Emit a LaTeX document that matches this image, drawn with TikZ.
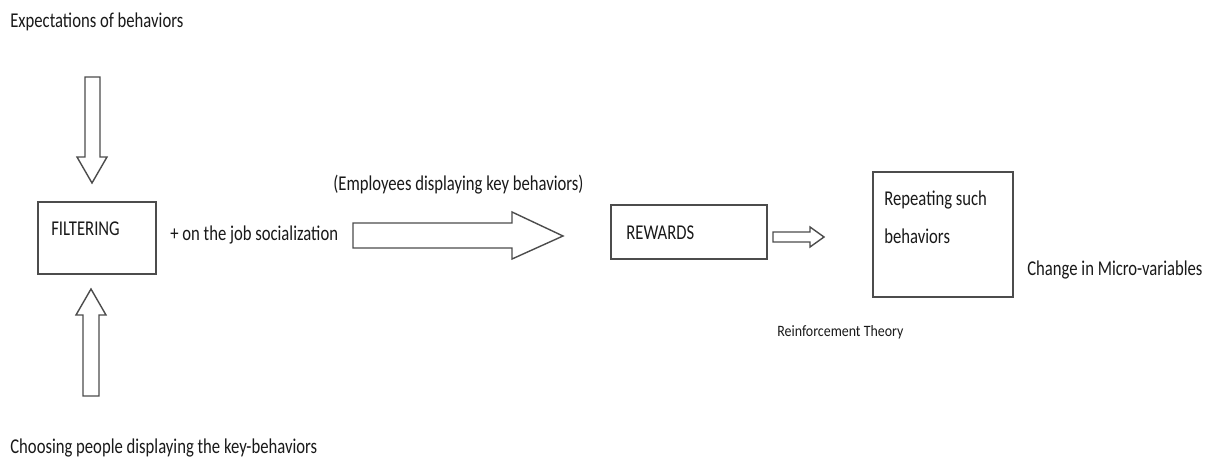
\documentclass[tikz,border=0pt]{standalone}
\usepackage{fontspec}
\setmainfont{Carlito}
\newfontfamily\narrowfont{Carlito}[FakeStretch=0.79]
\newfontfamily\theoryfont{Carlito}[FakeStretch=0.88]
\usepackage{tikz}

\tikzset{
    lbl/.style={anchor=west, inner sep=0pt, text=black!90, font=\narrowfont\fontsize{12}{21.5}\selectfont},
    box/.style={draw=black!70, line width=0.8pt, inner sep=0pt},
    blk/.style={draw=black!70, line width=0.8pt, line join=miter, fill=white}
}

\begin{document}
\begin{tikzpicture}[x=0.02cm, y=-0.02cm]
        \useasboundingbox (0,0) rectangle (1213,462);

        % boxes
        \node[box, minimum width=2.36cm, minimum height=1.44cm] (filter) at (97,238) {};
        \node[box, minimum width=3.12cm, minimum height=1.08cm] (rewards) at (689,232) {};
        \node[box, minimum width=2.8cm, minimum height=2.5cm] (repeat) at (943,234.5) {};

        % labels
        \node[lbl] (expect) at (10,22) {Expectations of behaviors};
        \node[lbl] (choose) at (10,448) {Choosing people displaying the key-behaviors};
        \node[lbl] (filtertxt) at (51,229) {FILTERING};
        \node[lbl] (social) at (170,235) {+ on the job socialization};
        \node[lbl] (employees) at (333,185) {(Employees displaying key behaviors)};
        \node[lbl] (rewardtxt) at (626,233) {REWARDS};
        \node[lbl, align=left, anchor=north west] (repeattxt) at (884,191) {Repeating such\\behaviors};
        \node[lbl] (micro) at (1027,270) {Change in Micro-variables};
        \node[lbl, font=\theoryfont\fontsize{9}{11}\selectfont] (theory) at (777,332) {Reinforcement Theory};

        % block arrows
        \draw[blk] (85,77) -- (100,77) -- (100,157) -- (107,157) -- (92,183) -- (77,157) -- (85,157) -- cycle;
        \draw[blk] (83,396) -- (99,396) -- (99,315) -- (106,315) -- (91,289) -- (76,315) -- (83,315) -- cycle;
        \draw[blk] (353,223) -- (512,223) -- (512,212) -- (563,236) -- (512,259) -- (512,248) -- (353,248) -- cycle;
        \draw[blk] (773,232) -- (810,232) -- (810,227) -- (824,237) -- (810,247) -- (810,242) -- (773,242) -- cycle;
    \end{tikzpicture}
\end{document}
